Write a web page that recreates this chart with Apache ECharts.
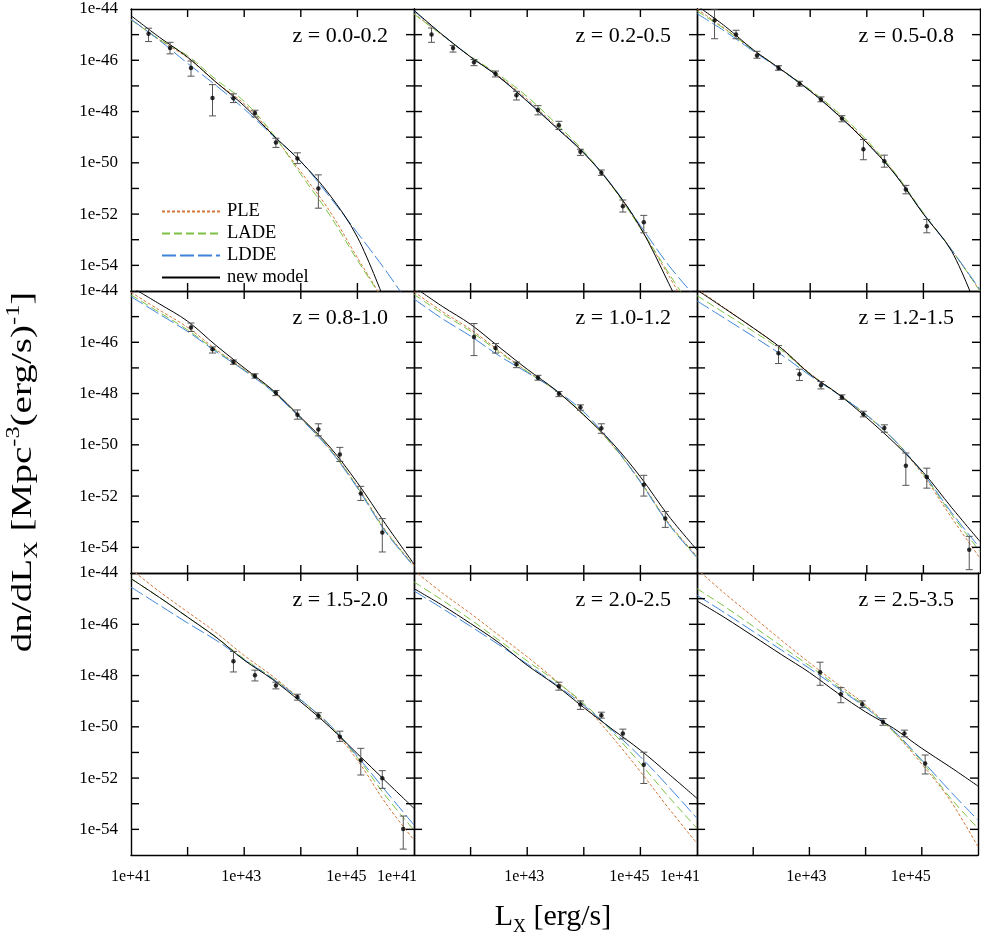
<!DOCTYPE html>
<html>
<head>
<meta charset="utf-8">
<script src="https://cdn.jsdelivr.net/npm/echarts@6/dist/echarts.min.js"></script>
<style>html,body{margin:0;padding:0;background:#fff;}#c{width:981px;height:938px;}</style>
</head>
<body>
<div id="c"></div>
<script>
// ---------- axis ticks / labels (log10 units) ----------
const xMin = 41, xMax = 46, yMin = -55, yMax = -44;
const xTickVals = [42, 43, 44, 45];
const yTickVals = [-54, -53, -52, -51, -50, -49, -48, -47, -46, -45];
const xLabelVals = [41, 43, 45];
const yLabelVals = [-54, -52, -50, -48, -46, -44];
const panelTitles = ['z = 0.0-0.2', 'z = 0.2-0.5', 'z = 0.5-0.8', 'z = 0.8-1.0', 'z = 1.0-1.2', 'z = 1.2-1.5', 'z = 1.5-2.0', 'z = 2.0-2.5', 'z = 2.5-3.5'];
const seriesNames = ['PLE', 'LADE', 'LDDE', 'new model'];

// model curves sampled at these log L_X
const curveL = [41, 41.5, 42, 42.5, 43, 43.5, 44, 44.5, 45, 45.5, 46];

// ---------- panel 1: z = 0.0-0.2 ----------
const p1L   = [41.31, 41.69, 42.06, 42.44, 42.81, 43.19, 43.56, 43.94, 44.31];
const p1Phi = [-44.97, -45.52, -46.30, -47.47, -47.48, -48.06, -49.21, -49.83, -51.00];
const p1Lo  = [-45.27, -45.75, -46.62, -48.17, -47.65, -48.21, -49.40, -50.03, -51.77];
const p1Hi  = [-44.75, -45.30, -46.03, -46.95, -47.31, -47.95, -49.04, -49.61, -50.47];
const p1PLE  = [-44.40, -45.20, -45.90, -46.85, -47.70, -48.90, -50.35, -51.85, -53.70, -55.50, null];
const p1LADE = [-44.42, -45.18, -45.82, -46.75, -47.60, -48.85, -50.45, -52.00, -53.80, -55.50, null];
const p1LDDE = [-44.40, -45.22, -46.12, -46.98, -47.90, -48.93, -49.95, -51.30, -52.73, -54.20, -55.80];
const p1NEW  = [-44.26, -45.10, -45.88, -46.85, -47.78, -48.90, -49.95, -51.22, -52.90, -55.50, null];

// ---------- panel 2: z = 0.2-0.5 ----------
const p2L   = [41.31, 41.69, 42.06, 42.44, 42.81, 43.19, 43.56, 43.94, 44.31, 44.69, 45.06];
const p2Phi = [-44.99, -45.52, -46.08, -46.53, -47.36, -47.94, -48.53, -49.57, -50.39, -51.69, -52.32];
const p2Lo  = [-45.30, -45.68, -46.21, -46.65, -47.55, -48.13, -48.70, -49.71, -50.49, -51.92, -52.73];
const p2Hi  = [-44.74, -45.42, -45.97, -46.42, -47.21, -47.77, -48.38, -49.47, -50.28, -51.45, -52.05];
const p2PLE  = [-44.18, -45.02, -45.86, -46.62, -47.52, -48.55, -49.60, -50.92, -52.55, -54.40, -56.30];
const p2LADE = [-44.20, -45.02, -45.85, -46.57, -47.42, -48.45, -49.55, -50.92, -52.55, -54.30, -56.00];
const p2LDDE = [-44.08, -45.00, -45.87, -46.65, -47.58, -48.58, -49.60, -50.88, -52.45, -54.00, -55.30];
const p2NEW  = [-44.05, -45.00, -45.87, -46.65, -47.60, -48.60, -49.62, -50.90, -52.52, -54.70, -57.00];

// ---------- panel 3: z = 0.5-0.8 ----------
const p3L   = [41.31, 41.69, 42.06, 42.44, 42.81, 43.19, 43.56, 43.94, 44.31, 44.69, 45.06];
const p3Phi = [-44.44, -44.99, -45.81, -46.30, -46.92, -47.53, -48.27, -49.47, -49.94, -51.04, -52.47];
const p3Lo  = [-45.16, -45.16, -45.92, -46.39, -47.01, -47.62, -48.40, -49.88, -50.17, -51.21, -52.73];
const p3Hi  = [-44.00, -44.83, -45.65, -46.21, -46.82, -47.43, -48.16, -49.09, -49.70, -50.88, -52.21];
const p3PLE  = [-44.00, -44.78, -45.60, -46.38, -47.18, -48.12, -49.18, -50.42, -51.97, -53.40, -55.00];
const p3LADE = [-44.08, -44.80, -45.62, -46.38, -47.15, -48.05, -49.12, -50.40, -51.95, -53.40, -55.00];
const p3LDDE = [-44.18, -44.88, -45.65, -46.40, -47.20, -48.15, -49.22, -50.45, -51.98, -53.40, -54.95];
const p3NEW  = [-43.87, -44.68, -45.60, -46.38, -47.20, -48.15, -49.22, -50.45, -52.00, -53.45, -56.00];

// ---------- panel 4: z = 0.8-1.0 ----------
const p4L   = [42.06, 42.44, 42.81, 43.19, 43.56, 43.94, 44.31, 44.69, 45.06, 45.44];
const p4Phi = [-45.42, -46.27, -46.77, -47.32, -47.97, -48.83, -49.40, -50.38, -51.90, -53.42];
const p4Lo  = [-45.58, -46.42, -46.86, -47.40, -48.08, -49.00, -49.65, -50.65, -52.17, -54.18];
const p4Hi  = [-45.25, -46.18, -46.69, -47.23, -47.88, -48.64, -49.18, -50.10, -51.62, -52.88];
const p4PLE  = [-44.05, -44.74, -45.42, -46.28, -47.06, -47.90, -48.96, -50.12, -51.62, -53.35, -54.70];
const p4LADE = [-44.15, -44.83, -45.52, -46.32, -47.08, -47.90, -48.96, -50.14, -51.65, -53.38, -54.72];
const p4LDDE = [-44.22, -44.90, -45.58, -46.36, -47.10, -47.92, -48.98, -50.16, -51.68, -53.40, -54.75];
const p4NEW  = [-43.84, -44.50, -45.18, -46.12, -47.00, -47.86, -48.93, -50.05, -51.48, -53.10, -54.65];

// ---------- panel 5: z = 1.0-1.2 ----------
const p5L   = [42.06, 42.44, 42.81, 43.19, 43.56, 43.94, 44.31, 45.06, 45.44];
const p5Phi = [-45.79, -46.22, -46.86, -47.38, -48.01, -48.53, -49.35, -51.56, -52.87];
const p5Lo  = [-46.52, -46.42, -46.99, -47.48, -48.12, -48.65, -49.55, -52.00, -53.22];
const p5Hi  = [-45.27, -46.05, -46.77, -47.29, -47.92, -48.44, -49.18, -51.19, -52.60];
const p5PLE  = [-44.03, -44.80, -45.50, -46.33, -47.14, -47.88, -48.84, -50.00, -51.42, -53.05, -54.35];
const p5LADE = [-44.13, -44.88, -45.57, -46.38, -47.14, -47.88, -48.82, -50.00, -51.44, -53.08, -54.38];
const p5LDDE = [-44.31, -45.08, -45.76, -46.52, -47.18, -47.86, -48.72, -49.95, -51.45, -53.10, -54.40];
const p5NEW  = [-43.84, -44.60, -45.30, -46.18, -47.05, -47.86, -48.84, -49.92, -51.25, -52.78, -54.10];

// ---------- panel 6: z = 1.2-1.5 ----------
const p6L   = [42.44, 42.81, 43.19, 43.56, 43.94, 44.31, 44.69, 45.06, 45.81];
const p6Phi = [-46.43, -47.25, -47.68, -48.14, -48.81, -49.34, -50.82, -51.26, -54.09];
const p6Lo  = [-46.83, -47.49, -47.82, -48.23, -48.91, -49.51, -51.58, -51.69, -54.87];
const p6Hi  = [-46.13, -47.05, -47.53, -48.05, -48.69, -49.22, -50.32, -50.91, -53.57];
const p6PLE  = [-43.92, -44.68, -45.45, -46.25, -47.22, -48.02, -48.86, -49.86, -51.20, -52.85, -54.42];
const p6LADE = [-44.18, -44.88, -45.58, -46.32, -47.25, -48.03, -48.85, -49.85, -51.15, -52.72, -54.16];
const p6LDDE = [-44.39, -45.08, -45.78, -46.50, -47.30, -48.04, -48.84, -49.84, -51.13, -52.65, -54.03];
const p6NEW  = [-43.96, -44.70, -45.45, -46.25, -47.25, -48.03, -48.95, -49.95, -51.08, -52.45, -53.77];

// ---------- panel 7: z = 1.5-2.0 ----------
const p7L   = [42.81, 43.19, 43.56, 43.94, 44.31, 44.69, 45.06, 45.44, 45.81];
const p7Phi = [-47.44, -47.99, -48.39, -48.84, -49.57, -50.39, -51.30, -52.01, -53.99];
const p7Lo  = [-47.86, -48.21, -48.52, -48.96, -49.69, -50.57, -51.88, -52.40, -54.77];
const p7Hi  = [-47.06, -47.79, -48.26, -48.73, -49.45, -50.17, -50.84, -51.71, -53.48];
const p7PLE  = [-43.85, -44.72, -45.52, -46.32, -47.22, -48.02, -48.95, -49.95, -51.30, -52.98, -54.42];
const p7LADE = [-44.22, -44.95, -45.72, -46.50, -47.35, -48.10, -48.95, -49.90, -51.20, -52.70, -54.03];
const p7LDDE = [-44.55, -45.25, -45.95, -46.62, -47.38, -48.12, -48.95, -49.90, -51.15, -52.50, -53.83];
const p7NEW  = [-44.22, -44.95, -45.72, -46.50, -47.40, -48.15, -49.03, -49.98, -51.05, -52.12, -53.18];

// ---------- panel 8: z = 2.0-2.5 ----------
const p8L   = [43.56, 43.94, 44.31, 44.69, 45.06];
const p8Phi = [-48.42, -49.13, -49.55, -50.26, -51.48];
const p8Lo  = [-48.57, -49.32, -49.66, -50.47, -52.21];
const p8Hi  = [-48.26, -48.99, -49.43, -50.09, -50.99];
const p8PLE  = [-43.90, -44.78, -45.58, -46.43, -47.27, -48.18, -49.16, -50.39, -51.75, -53.18, -54.55];
const p8LADE = [-44.35, -45.06, -45.82, -46.62, -47.43, -48.21, -49.09, -50.19, -51.43, -52.73, -53.96];
const p8LDDE = [-44.70, -45.38, -46.08, -46.80, -47.55, -48.34, -49.16, -50.13, -51.17, -52.34, -53.57];
const p8NEW  = [-44.61, -45.26, -45.97, -46.72, -47.60, -48.37, -49.25, -50.09, -50.91, -51.84, -52.79];

// ---------- panel 9: z = 2.5-3.5 ----------
const p9L   = [43.19, 43.56, 43.94, 44.31, 44.69, 45.06];
const p9Phi = [-47.87, -48.73, -49.12, -49.81, -50.26, -51.43];
const p9Lo  = [-48.38, -49.06, -49.25, -49.94, -50.39, -51.84];
const p9Hi  = [-47.48, -48.47, -48.99, -49.68, -50.13, -51.10];
const p9PLE  = [-43.85, -44.81, -45.71, -46.62, -47.50, -48.33, -49.15, -50.20, -51.45, -52.85, -54.68];
const p9LADE = [-44.61, -45.32, -46.08, -46.85, -47.62, -48.42, -49.22, -50.20, -51.35, -52.75, -53.96];
const p9LDDE = [-44.87, -45.56, -46.28, -47.00, -47.72, -48.48, -49.25, -50.15, -51.30, -52.50, -53.64];
const p9NEW  = [-45.09, -45.75, -46.46, -47.18, -47.88, -48.68, -49.42, -50.06, -50.84, -51.56, -52.31];

const panels = [
  [p1L, p1Phi, p1Lo, p1Hi, p1PLE, p1LADE, p1LDDE, p1NEW],
  [p2L, p2Phi, p2Lo, p2Hi, p2PLE, p2LADE, p2LDDE, p2NEW],
  [p3L, p3Phi, p3Lo, p3Hi, p3PLE, p3LADE, p3LDDE, p3NEW],
  [p4L, p4Phi, p4Lo, p4Hi, p4PLE, p4LADE, p4LDDE, p4NEW],
  [p5L, p5Phi, p5Lo, p5Hi, p5PLE, p5LADE, p5LDDE, p5NEW],
  [p6L, p6Phi, p6Lo, p6Hi, p6PLE, p6LADE, p6LDDE, p6NEW],
  [p7L, p7Phi, p7Lo, p7Hi, p7PLE, p7LADE, p7LDDE, p7NEW],
  [p8L, p8Phi, p8Lo, p8Hi, p8PLE, p8LADE, p8LDDE, p8NEW],
  [p9L, p9Phi, p9Lo, p9Hi, p9PLE, p9LADE, p9LDDE, p9NEW]
];

// ---------- styling ----------
const FONT = 'Liberation Serif';
const lineStyles = {
  'PLE':       {color: '#d4763a', width: 1, type: [3, 2]},
  'LADE':      {color: '#7cc243', width: 1, type: [8, 4]},
  'LDDE':      {color: '#3d84d8', width: 1, type: [14, 4]},
  'new model': {color: '#000000', width: 1, type: 'solid'}
};
const GL = 131, GT = 9, GW = 283, GH = 282;
const TICK = 8, TW = 1.4;
// horizontal nudges of bottom tick labels (px, left = negative)
const xLabelShiftFirst = {41: 0, 43: -3, 45: -11};
const xLabelShiftOther = {41: -17, 43: -3, 45: -11};

const grids = [], xAxes = [], yAxes = [], series = [], titles = [];

function mkX(i, pos, showLabel, shifts) {
  const rich = {};
  xLabelVals.forEach(v => {
    const s = shifts[v] || 0;
    rich['a' + v] = {fontFamily: FONT, fontSize: 16, color: '#000', padding: [0, -2 * s, 0, 0]};
  });
  return {
    type: 'value', gridIndex: i, position: pos, min: xMin, max: xMax, interval: 1,
    axisLine: {show: true, onZero: false, lineStyle: {color: '#000', width: 1.4}},
    axisTick: {show: false},
    axisLabel: {
      show: showLabel, margin: 14, fontFamily: FONT, fontSize: 16, color: '#000',
      formatter: v => (xLabelVals.indexOf(v) < 0 ? '' : '{a' + v + '|1e+' + v + '}'),
      rich: rich
    },
    splitLine: {show: false}
  };
}
function mkY(i, pos, showLabel) {
  return {
    type: 'value', gridIndex: i, position: pos, min: yMin, max: yMax, interval: 1,
    axisLine: {show: true, onZero: false, lineStyle: {color: '#000', width: 1.4}},
    axisTick: {show: false},
    axisLabel: {
      show: showLabel, margin: 13, fontFamily: FONT, fontSize: 17, color: '#000',
      formatter: v => (yLabelVals.indexOf(v) >= 0 ? '1e' + v : '')
    },
    splitLine: {show: false}
  };
}

function renderErr(params, api) {
  const x = api.value(0), lo = api.value(1), hi = api.value(2);
  const a = api.coord([x, hi]), b = api.coord([x, lo]);
  const w = 3.5, st = {stroke: '#555', lineWidth: 1};
  return {type: 'group', children: [
    {type: 'line', shape: {x1: a[0], y1: a[1], x2: b[0], y2: b[1]}, style: st},
    {type: 'line', shape: {x1: a[0] - w, y1: a[1], x2: a[0] + w, y2: a[1]}, style: st},
    {type: 'line', shape: {x1: b[0] - w, y1: b[1], x2: b[0] + w, y2: b[1]}, style: st}
  ]};
}

// inside tick marks on all four sides, positioned through the axis scales
function renderXTicks(params, api) {
  const v = api.value(0);
  const pb = api.coord([v, yMin]), pt = api.coord([v, yMax]);
  const x = pb[0] - TW / 2;
  return {type: 'group', children: [
    {type: 'rect', shape: {x: x, y: pb[1] - TICK, width: TW, height: TICK}, style: {fill: '#000'}},
    {type: 'rect', shape: {x: x, y: pt[1], width: TW, height: TICK}, style: {fill: '#000'}}
  ]};
}
function renderYTicks(params, api) {
  const v = api.value(1);
  const pl = api.coord([xMin, v]), pr = api.coord([xMax, v]);
  const y = pl[1] - TW / 2;
  return {type: 'group', children: [
    {type: 'rect', shape: {x: pl[0], y: y, width: TICK, height: TW}, style: {fill: '#000'}},
    {type: 'rect', shape: {x: pr[0] - TICK, y: y, width: TICK, height: TW}, style: {fill: '#000'}}
  ]};
}

panels.forEach((p, i) => {
  const r = Math.floor(i / 3), c = i % 3;
  const left = GL + c * GW, top = GT + r * GH;
  grids.push({left: left, top: top, width: GW, height: GH, show: false});
  const shifts = c === 0 ? xLabelShiftFirst : xLabelShiftOther;
  xAxes[i] = mkX(i, 'bottom', r === 2, shifts);
  xAxes[9 + i] = mkX(i, 'top', false, shifts);
  yAxes[i] = mkY(i, 'left', c === 0);
  yAxes[9 + i] = mkY(i, 'right', false);

  const [L, phi, lo, hi] = p;
  const curves = p.slice(4);
  curves.forEach((arr, k) => {
    const name = seriesNames[k];
    const d = [];
    curveL.forEach((x, j) => { if (arr[j] !== null) d.push([x, arr[j]]); });
    series.push({
      name: name, type: 'line', xAxisIndex: i, yAxisIndex: i, data: d,
      symbol: 'none', showSymbol: false, smooth: 0.35, clip: true,
      lineStyle: lineStyles[name], itemStyle: {color: lineStyles[name].color, opacity: 0},
      z: name === 'new model' ? 3 : 2, silent: true
    });
  });
  series.push({
    type: 'custom', xAxisIndex: i, yAxisIndex: i, renderItem: renderXTicks,
    data: xTickVals.map(v => [v, -50]), encode: {x: 0, y: 1}, z: 6, silent: true
  });
  series.push({
    type: 'custom', xAxisIndex: i, yAxisIndex: i, renderItem: renderYTicks,
    data: yTickVals.map(v => [43, v]), encode: {x: 0, y: 1}, z: 6, silent: true
  });
  series.push({
    type: 'custom', xAxisIndex: i, yAxisIndex: i, renderItem: renderErr, clip: true,
    data: L.map((x, j) => [x, lo[j], hi[j]]), encode: {x: 0, y: [1, 2]}, z: 4, silent: true
  });
  series.push({
    type: 'scatter', xAxisIndex: i, yAxisIndex: i, data: L.map((x, j) => [x, phi[j]]),
    symbol: 'circle', symbolSize: 4.5, itemStyle: {color: '#000'}, z: 5, silent: true
  });
  titles.push({
    text: panelTitles[i], right: 981 - (left + GW - 21), top: top + 11,
    textStyle: {fontFamily: FONT, fontSize: 22, fontWeight: 'normal', color: '#000'}
  });
});

const chart = echarts.init(document.getElementById('c'), null, {renderer: 'canvas'});
chart.setOption({
  animation: false,
  backgroundColor: '#fff',
  title: titles,
  grid: grids,
  xAxis: xAxes,
  yAxis: yAxes,
  legend: {
    data: seriesNames, orient: 'vertical', left: 156, top: 197,
    itemWidth: 58, itemHeight: 10, itemGap: 3, selectedMode: false,
    itemStyle: {opacity: 0},
    textStyle: {fontFamily: FONT, fontSize: 18.5, lineHeight: 19, color: '#000', padding: [0, 0, 0, 2]}
  },
  series: series,
  graphic: [
    {
      type: 'text', x: 23, y: 472, rotation: Math.PI / 2, scaleX: 1.35,
      style: {
        text: '{n|dn/dL}{s|X}{n| [Mpc}{p|-3}{n|(erg/s)}{p|-1}{n|]}',
        align: 'center', verticalAlign: 'middle',
        rich: {
          n: {fontFamily: FONT, fontSize: 29, lineHeight: 36, fill: '#000'},
          s: {fontFamily: FONT, fontSize: 18, lineHeight: 36, verticalAlign: 'bottom', fill: '#000'},
          p: {fontFamily: FONT, fontSize: 18, lineHeight: 36, verticalAlign: 'top', fill: '#000'}
        }
      }
    },
    {
      type: 'text', x: 553, y: 917,
      style: {
        text: '{n|L}{s|X}{n| [erg/s]}',
        align: 'center', verticalAlign: 'middle',
        rich: {
          n: {fontFamily: FONT, fontSize: 30, lineHeight: 38, fill: '#000'},
          s: {fontFamily: FONT, fontSize: 18, lineHeight: 38, verticalAlign: 'bottom', fill: '#000'}
        }
      }
    }
  ]
});
</script>
</body>
</html>
